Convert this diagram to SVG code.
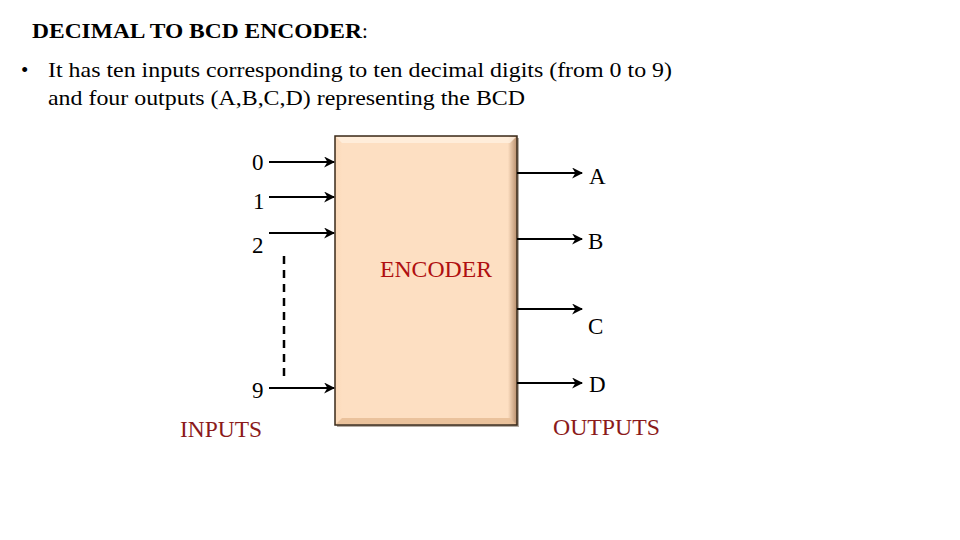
<svg xmlns="http://www.w3.org/2000/svg" width="960" height="540" viewBox="0 0 960 540">
<style>
.t{font-family:"Liberation Serif","Times New Roman",serif;fill:#000}
.lbl{font-family:"Liberation Serif","Times New Roman",serif;font-size:23px;fill:#000}
.red{font-family:"Liberation Serif","Times New Roman",serif;font-size:23px;fill:#8B1A1A}
.wire{stroke:#000;stroke-width:2.2;fill:none}
</style>
<defs>
<marker id="ah" viewBox="0 0 10 10" refX="9" refY="5" markerWidth="5" markerHeight="5" orient="auto" markerUnits="strokeWidth">
<path d="M0,0 L10,5 L0,10 L3,5 Z" fill="#000"/>
</marker>
<linearGradient id="lg" x1="0" y1="0" x2="1" y2="0">
<stop offset="0" stop-color="#FBD9B8"/>
<stop offset="0.04" stop-color="#FDDFC2"/>
<stop offset="0.95" stop-color="#FDDFC2"/>
<stop offset="1" stop-color="#B88E6C"/>
</linearGradient>
</defs>
<text class="t" x="32" y="38" font-size="21" font-weight="bold" textLength="330" lengthAdjust="spacingAndGlyphs">DECIMAL TO BCD ENCODER</text>
<text class="t" x="362" y="38" font-size="21">:</text>
<text class="t" x="21" y="77" font-size="21">•</text>
<text class="t" x="48" y="77" font-size="21" textLength="624" lengthAdjust="spacingAndGlyphs">It has ten inputs corresponding to ten decimal digits (from 0 to 9)</text>
<text class="t" x="48" y="105" font-size="21" textLength="477" lengthAdjust="spacingAndGlyphs">and four outputs (A,B,C,D) representing the BCD</text>
<g id="encoder">
<rect x="337" y="138" width="182" height="289" fill="#6b5a4a" opacity="0.5"/>
<rect x="335" y="136" width="182" height="289" fill="url(#lg)" stroke="#3a2a1a" stroke-width="1.5"/>
<polygon points="336,137 516,137 510,143 342,143" fill="#FFF0E0" opacity="0.8"/>
<polygon points="336,424 516,424 510,418 342,418" fill="#E8BF98" opacity="0.9"/>
<text class="red" x="436" y="277" text-anchor="middle" style="fill:#B01010" textLength="112" lengthAdjust="spacingAndGlyphs">ENCODER</text>
</g>
<g id="connectors">
<line class="wire" x1="269" y1="162" x2="334" y2="162" marker-end="url(#ah)"/>
<line class="wire" x1="269" y1="197" x2="334" y2="197" marker-end="url(#ah)"/>
<line class="wire" x1="269" y1="233" x2="334" y2="233" marker-end="url(#ah)"/>
<line class="wire" x1="269" y1="388" x2="334" y2="388" marker-end="url(#ah)"/>
<line x1="284" y1="256" x2="284" y2="378" stroke="#000" stroke-width="2.5" stroke-dasharray="8,6"/>
<line class="wire" x1="517" y1="173" x2="582" y2="173" marker-end="url(#ah)"/>
<line class="wire" x1="517" y1="239" x2="582" y2="239" marker-end="url(#ah)"/>
<line class="wire" x1="517" y1="309" x2="582" y2="309" marker-end="url(#ah)"/>
<line class="wire" x1="517" y1="383" x2="582" y2="383" marker-end="url(#ah)"/>
</g>
<g id="inputs">
<text class="lbl" x="252" y="170">0</text>
<text class="lbl" x="253" y="209">1</text>
<text class="lbl" x="252" y="253">2</text>
<text class="lbl" x="252" y="398">9</text>
<text class="red" x="180" y="437" textLength="82" lengthAdjust="spacingAndGlyphs">INPUTS</text>
</g>
<g id="outputs">
<text class="lbl" x="589" y="184">A</text>
<text class="lbl" x="588" y="249">B</text>
<text class="lbl" x="588" y="334">C</text>
<text class="lbl" x="589" y="392">D</text>
<text class="red" x="553" y="435" textLength="107" lengthAdjust="spacingAndGlyphs">OUTPUTS</text>
</g>
</svg>
